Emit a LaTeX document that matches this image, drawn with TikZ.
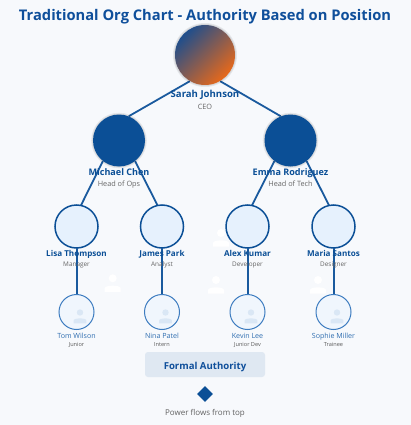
\documentclass[tikz,border=0pt]{standalone}
\usepackage{fontspec}
\setmainfont{Open Sans}
\usetikzlibrary{shapes.geometric}
\definecolor{bgc}{HTML}{F7F9FC}
\definecolor{mainblue}{HTML}{0B4F96}
\definecolor{titleblue}{HTML}{0F4F9B}
\definecolor{linkc}{HTML}{1A5A9E}
\definecolor{lfill}{HTML}{E6F1FD}
\definecolor{sfill}{HTML}{F0F6FD}
\definecolor{sstroke}{HTML}{3D7CC0}
\definecolor{sname}{HTML}{2E6DB0}
\definecolor{grayt}{HTML}{666666}
\definecolor{boxfill}{HTML}{DFE8F2}
\definecolor{iconc}{HTML}{DAE7F5}
\definecolor{ceoA}{HTML}{1F4E8C}
\definecolor{ceoB}{HTML}{E8691A}
\tikzset{
  link/.style={draw=linkc, line width=1.8pt},
  vlink/.style={draw=linkc, line width=2pt},
  lvlone/.style={circle, minimum size=60pt, inner sep=0pt},
  lvltwo/.style={circle, minimum size=52pt, inner sep=0pt},
  lvlthree/.style={circle, minimum size=43pt, inner sep=0pt},
  lvlfour/.style={circle, minimum size=35pt, inner sep=0pt},
  titletxt/.style={font=\fontsize{14.7}{17}\selectfont\bfseries, text=titleblue, anchor=base, inner sep=0pt},
  nameone/.style={font=\fontsize{9.6}{11}\selectfont\bfseries, text=mainblue, anchor=base, inner sep=0pt},
  nametwo/.style={font=\fontsize{9.05}{11}\selectfont\bfseries, text=mainblue, anchor=base, inner sep=0pt},
  namethree/.style={font=\fontsize{8.1}{10}\selectfont\bfseries, text=mainblue, anchor=base, inner sep=0pt},
  namefour/.style={font=\fontsize{7.1}{8}\selectfont, text=sname, anchor=base, inner sep=0pt},
  roleone/.style={font=\fontsize{7.3}{9}\selectfont, text=grayt, anchor=base, inner sep=0pt},
  rolethree/.style={font=\fontsize{6.4}{8}\selectfont, text=grayt, anchor=base, inner sep=0pt},
  rolefour/.style={font=\fontsize{5.6}{7}\selectfont, text=black!65, anchor=base, inner sep=0pt},
  halo/.style={fill=black, fill opacity=0.07},
  person/.pic={
    \fill[#1] (0,0) circle[radius=4];
    \fill[#1] (-8,13.5) -- (-8,10) .. controls (-8,6.5) and (8,6.5) .. (8,10) -- (8,13.5) -- cycle;
  }
}
\begin{document}
\begin{tikzpicture}[x=1pt,y=-1pt]
\useasboundingbox (0,0) rectangle (411,425);
\fill[bgc] (0,0) rectangle (411,425);

% faint white icons in background
\pic at (112.7,278.3) {person=white};
\pic at (216,280) {person=white};
\pic at (318,280) {person=white};
\pic at (221,233) {person=white};

% node positions
\node[lvlone] (ceo) at (205,55) {};
\node[lvltwo] (mc) at (119,140.5) {};
\node[lvltwo] (er) at (290.5,140.5) {};
\node[lvlthree] (lt) at (76.5,226.5) {};
\node[lvlthree] (jp) at (162,226.5) {};
\node[lvlthree] (ak) at (247.5,226.5) {};
\node[lvlthree] (ms) at (333.5,226.5) {};
\node[lvlfour] (tw) at (76.5,312) {};
\node[lvlfour] (np) at (162,312) {};
\node[lvlfour] (kl) at (247.5,312) {};
\node[lvlfour] (sm) at (333.5,312) {};

% connectors (behind circles)
\path[link] (ceo.240) -- (mc.68);
\path[link] (ceo.300) -- (er.112);
\path[link] (mc.232) -- (lt.78);
\path[link] (mc.308) -- (jp.102);
\path[link] (er.232) -- (ak.78);
\path[link] (er.308) -- (ms.102);

% halos
\fill[halo] (ceo.center) circle[radius=32];
\fill[halo] (ceo.center) circle[radius=31];
\fill[halo] (mc.center) circle[radius=27.8];
\fill[halo] (mc.center) circle[radius=26.8];
\fill[halo] (er.center) circle[radius=27.8];
\fill[halo] (er.center) circle[radius=26.8];

% circles
\shade[top color=ceoA, bottom color=ceoB, shading angle=45] (ceo.center) circle[radius=30];
\fill[mainblue] (mc.center) circle[radius=26];
\fill[mainblue] (er.center) circle[radius=26];
\foreach \n in {lt,jp,ak,ms}{
  \path[fill=lfill, draw=mainblue, line width=1.5pt] (\n.center) circle[radius=21.5];
}
\path[vlink] (lt.south) -- (tw.north);
\path[vlink] (jp.south) -- (np.north);
\path[vlink] (ak.south) -- (kl.north);
\path[vlink] (ms.south) -- (sm.north);
\foreach \n in {tw,np,kl,sm}{
  \path[fill=sfill, draw=sstroke, line width=1pt] (\n.center) circle[radius=17.5];
  \pic[scale=0.8] at ([xshift=3.5pt,yshift=-0.5pt]\n.center) {person=iconc};
}

% texts
\node[titletxt] (title) at (205,21) {Traditional Org Chart - Authority Based on Position};
\node[nameone] (ceoname) at (205,98) {Sarah Johnson};
\node[roleone] (ceorole) at (205,110) {CEO};
\node[nametwo] (mcname) at (119,175) {Michael Chen};
\node[roleone] (mcrole) at (119,186) {Head of Ops};
\node[nametwo] (ername) at (290.5,175) {Emma Rodriguez};
\node[roleone] (errole) at (290.5,186) {Head of Tech};
\node[namethree] (ltname) at (76.5,256.5) {Lisa Thompson};
\node[rolethree] (ltrole) at (76.5,266) {Manager};
\node[namethree] (jpname) at (162,256.5) {James Park};
\node[rolethree] (jprole) at (162,266) {Analyst};
\node[namethree] (akname) at (247.5,256.5) {Alex Kumar};
\node[rolethree] (akrole) at (247.5,266) {Developer};
\node[namethree] (msname) at (333.5,256.5) {Maria Santos};
\node[rolethree] (msrole) at (333.5,266) {Designer};
\node[namefour] (twname) at (76.5,338.5) {Tom Wilson};
\node[rolefour] (twrole) at (76.5,346.5) {Junior};
\node[namefour] (npname) at (162,338.5) {Nina Patel};
\node[rolefour] (nprole) at (162,346.5) {Intern};
\node[namefour] (klname) at (247.5,338.5) {Kevin Lee};
\node[rolefour] (klrole) at (247.5,346.5) {Junior Dev};
\node[namefour] (smname) at (333.5,338.5) {Sophie Miller};
\node[rolefour] (smrole) at (333.5,346.5) {Trainee};

% legend
\node[fill=boxfill, rounded corners=3pt, minimum width=120pt, minimum height=25pt, inner sep=0pt] (fbox) at (205,364.5) {};
\node[font=\fontsize{9.6}{11}\selectfont\bfseries, text=titleblue, anchor=base, inner sep=0pt] (fboxtxt) at (205,369) {Formal Authority};
\node[diamond, fill=mainblue, minimum width=16pt, minimum height=16pt, inner sep=0pt] (dia) at (205,394) {};
\node[font=\fontsize{8}{9}\selectfont, text=black!62, anchor=base, inner sep=0pt] (flow) at (205,415) {Power flows from top};
\end{tikzpicture}
\end{document}
